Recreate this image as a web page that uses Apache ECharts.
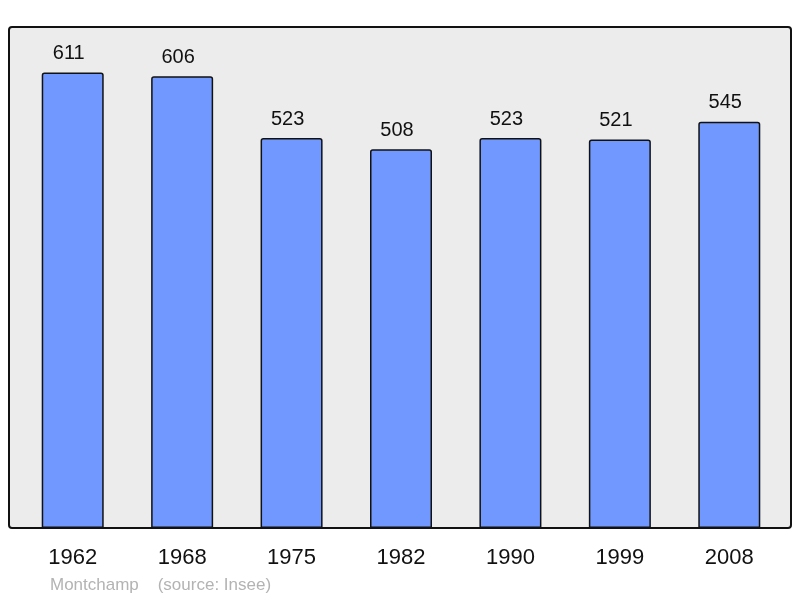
<!DOCTYPE html>
<html>
<head>
<meta charset="utf-8">
<script src="https://cdn.jsdelivr.net/npm/echarts@6/dist/echarts.min.js"></script>
<style>
  html, body { margin: 0; padding: 0; background: #fff; }
  #chart { width: 800px; height: 598px; }
</style>
</head>
<body>
<div id="chart"></div>
<script>
const years = ['1962', '1968', '1975', '1982', '1990', '1999', '2008'];
const population = [611, 606, 523, 508, 523, 521, 545];

const myChart = echarts.init(document.getElementById('chart'));
const option = {
  animation: false,
  textStyle: { fontFamily: 'Liberation Sans, Arial, sans-serif' },
  grid: { left: 18, right: 16, top: 27, bottom: 70 },
  graphic: [
    {
      type: 'rect',
      z: -10,
      shape: { x: 9, y: 27, width: 782, height: 501, r: 3 },
      style: { fill: '#ececec', stroke: '#111', lineWidth: 2 }
    },
    {
      type: 'text',
      left: 50,
      top: 577,
      style: {
        text: 'Montchamp    (source: Insee)',
        fill: '#b3b3b3',
        font: '17px Liberation Sans, Arial, sans-serif'
      }
    }
  ],
  xAxis: {
    type: 'category',
    data: years,
    axisLine: { show: false },
    axisTick: { show: false },
    axisLabel: { color: '#111', fontSize: 22, margin: 19 }
  },
  yAxis: {
    type: 'value',
    min: 0,
    max: 672,
    show: false,
    splitLine: { show: false }
  },
  series: [
    {
      type: 'bar',
      data: population,
      barWidth: 62,
      itemStyle: {
        color: '#7098ff',
        borderColor: '#111',
        borderWidth: 1.5,
        borderRadius: [2, 2, 0, 0]
      },
      label: {
        show: true,
        position: 'top',
        distance: 9,
        offset: [-4, 0],
        color: '#111',
        fontSize: 20
      }
    }
  ]
};
myChart.setOption(option);
</script>
</body>
</html>
